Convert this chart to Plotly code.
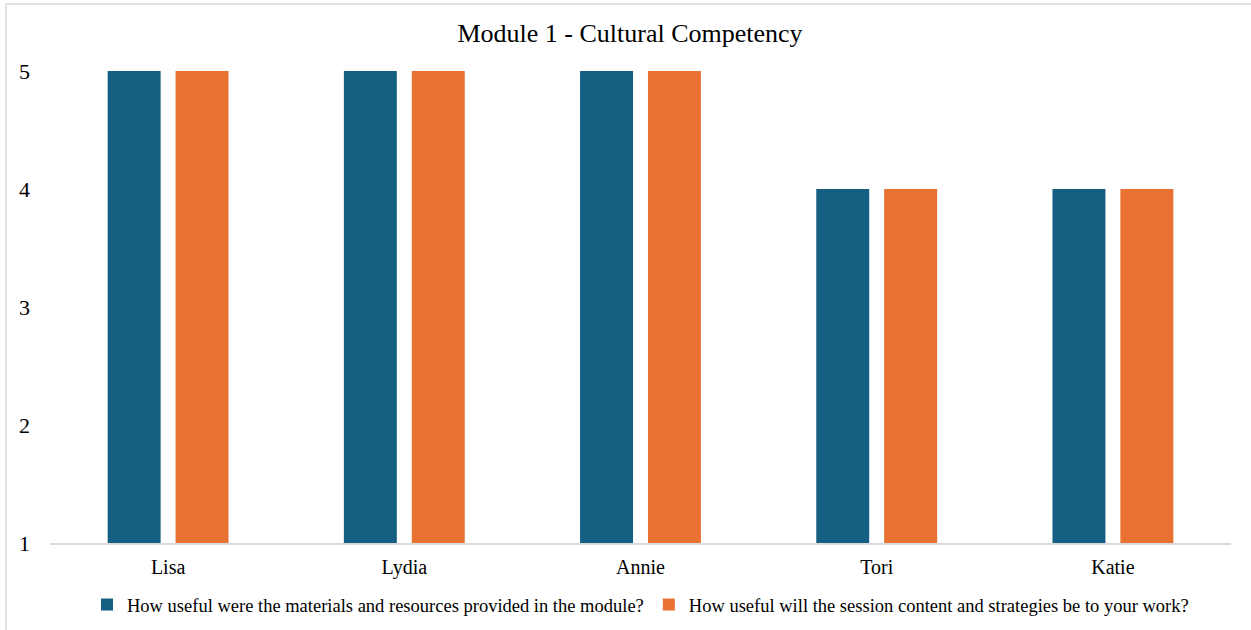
import plotly.graph_objects as go

names = ["Lisa", "Lydia", "Annie", "Tori", "Katie"]
materials = [5, 5, 5, 4, 4]
session = [5, 5, 5, 4, 4]
series_names = [
    "How useful were the materials and resources provided in the module?",
    "How useful will the session content and strategies be to your work?",
]
title_text = "Module 1 - Cultural Competency"
y_ticks = [1, 2, 3, 4, 5]

W, H = 1251, 630
L, R, T, B = 50, 20, 71, 87
pw, ph = W - L - R, H - T - B

def px_x(px):
    return (px - L) / pw

def px_y(py):
    return (H - B - py) / ph

font_family = "Liberation Serif, Times New Roman, serif"

fig = go.Figure()
fig.add_trace(go.Bar(x=names, y=[v - 1 for v in materials], base=1, name=series_names[0],
                     marker=dict(color="#156082", line=dict(width=0)),
                     customdata=materials, hovertemplate="%{customdata}<extra></extra>"))
fig.add_trace(go.Bar(x=names, y=[v - 1 for v in session], base=1, name=series_names[1],
                     marker=dict(color="#E97132", line=dict(width=0)),
                     customdata=session, hovertemplate="%{customdata}<extra></extra>"))

fig.update_layout(
    width=W, height=H,
    margin=dict(l=L, r=R, t=T, b=B, autoexpand=False),
    paper_bgcolor="white", plot_bgcolor="white",
    font=dict(family=font_family, color="#000000", size=20),
    title=dict(text=title_text, x=630 / W, xanchor="center", y=1 - 33 / H, yanchor="middle",
               font=dict(size=26, family=font_family, color="#000000")),
    barmode="group", bargap=0.425, bargroupgap=0.22,
    showlegend=True,
    legend=dict(orientation="h", x=0.5, xanchor="center", xref="paper",
                y=1 - 605 / H, yanchor="middle", yref="container",
                font=dict(size=18.5, family=font_family), itemwidth=30, itemsizing="constant",
                bgcolor="rgba(0,0,0,0)"),
    xaxis=dict(showline=True, linecolor="#d9d9d9", linewidth=1.5, showgrid=False, ticks="",
               tickfont=dict(size=20), ticklabelstandoff=5, fixedrange=True, automargin=False),
    yaxis=dict(range=[1, 5], tickvals=y_ticks, showgrid=False, zeroline=False, showline=False,
               ticks="", tickfont=dict(size=22), ticklabelstandoff=19, fixedrange=True, automargin=False),
    shapes=[
        dict(type="line", xref="paper", yref="paper", x0=px_x(6), x1=px_x(1260), y0=px_y(4), y1=px_y(4),
             line=dict(color="#d9d9d9", width=1.5)),
        dict(type="line", xref="paper", yref="paper", x0=px_x(6), x1=px_x(6), y0=px_y(4), y1=px_y(640),
             line=dict(color="#d9d9d9", width=1.5)),
    ],
)

fig.write_html("out.html")
